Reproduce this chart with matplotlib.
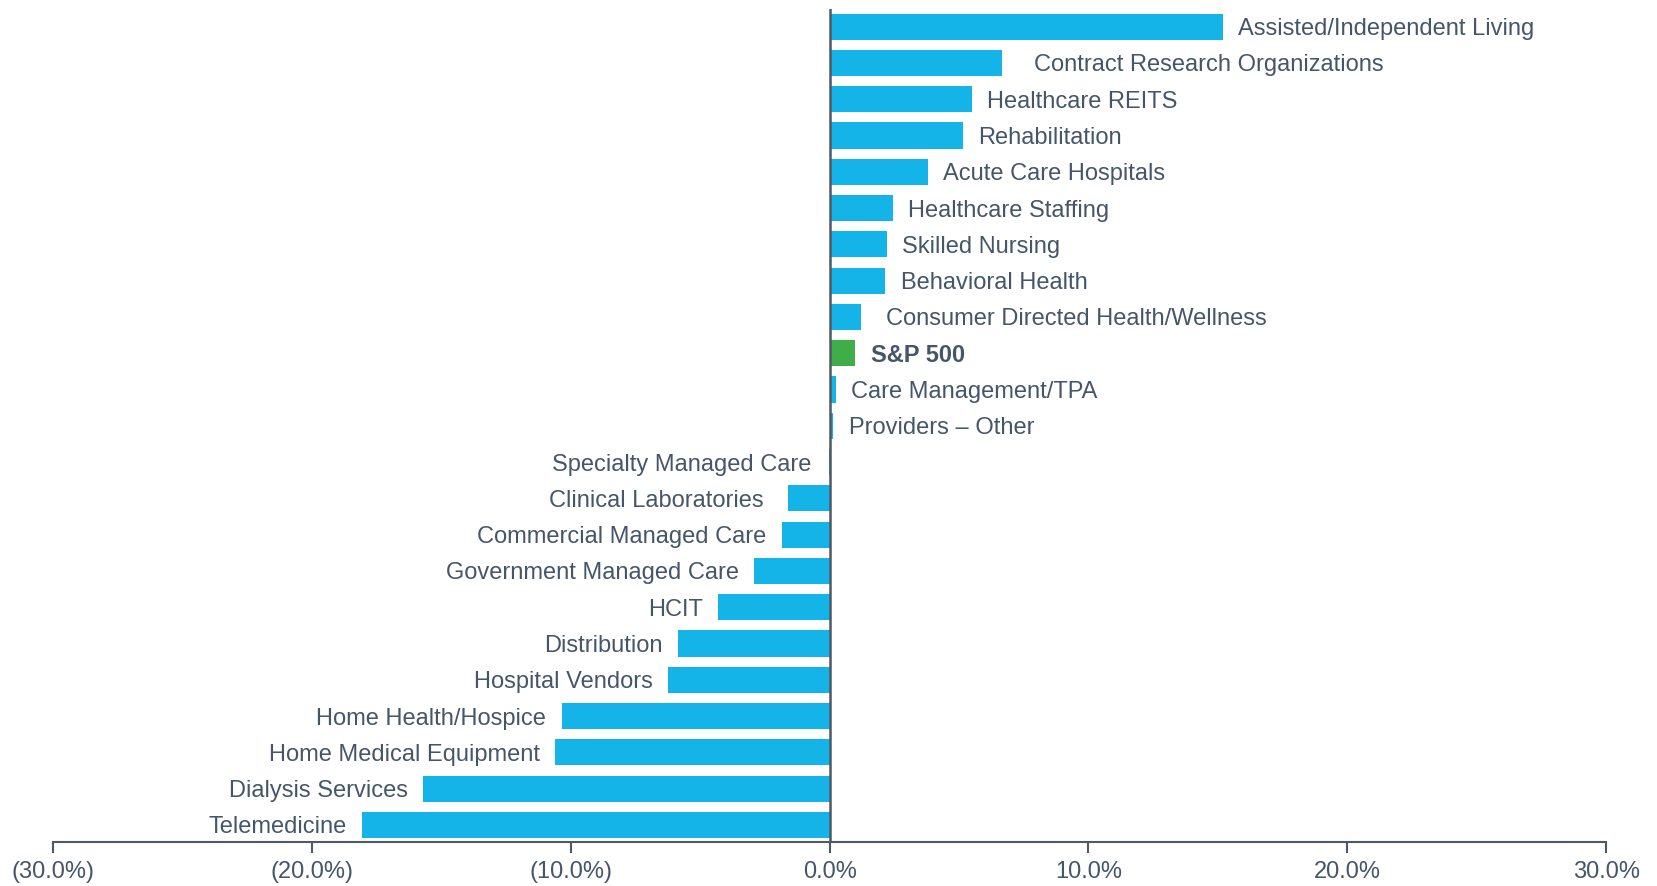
import numpy as np
import matplotlib.pyplot as plt

# sub-sector returns, top to bottom as shown
sectors = [
    "Assisted/Independent Living", "Contract Research Organizations", "Healthcare REITS",
    "Rehabilitation", "Acute Care Hospitals", "Healthcare Staffing", "Skilled Nursing",
    "Behavioral Health", "Consumer Directed Health/Wellness", "S&P 500",
    "Care Management/TPA", "Providers \u2013 Other", "Specialty Managed Care",
    "Clinical Laboratories", "Commercial Managed Care", "Government Managed Care",
    "HCIT", "Distribution", "Hospital Vendors", "Home Health/Hospice",
    "Home Medical Equipment", "Dialysis Services", "Telemedicine",
]
returns = [
    15.2, 6.65, 5.5, 5.15, 3.8, 2.45, 2.2, 2.15, 1.2, 1.0,
    0.25, 0.15, -0.02, -1.6, -1.85, -2.9, -4.3, -5.85, -6.25,
    -10.35, -10.6, -15.7, -18.05,
]
highlight = "S&P 500"
xticks = [-30, -20, -10, 0, 10, 20, 30]

# a few labels sit a little further from their bar in the original
extra_gap = {"Contract Research Organizations": 12, "Consumer Directed Health/Wellness": 7,
             "Clinical Laboratories": 7, "Specialty Managed Care": 2}

blue = "#14b4e8"
green = "#3fae49"
text_col = "#46566a"
axis_col = "#4d5966"

plt.rcParams['font.family'] = ['Liberation Sans', 'DejaVu Sans']

fig = plt.figure(figsize=(16.57, 8.86), dpi=100)
ax = fig.add_axes([0.0319, 0.0497, 0.9375, 0.9403])

y = np.arange(len(sectors))
colors = [green if s == highlight else blue for s in sectors]
ax.barh(y, returns, height=0.72, color=colors, zorder=2)

for yi, name, val in zip(y, sectors, returns):
    bold = name == highlight
    gap = 11 + extra_gap.get(name, 0)
    if val >= 0:
        ax.annotate(name, xy=(val, yi), xytext=(gap, 0), textcoords='offset points',
                    ha='left', va='center_baseline', fontsize=17, color=text_col,
                    fontweight='bold' if bold else 'normal')
    else:
        ax.annotate(name, xy=(val, yi), xytext=(-gap, 0), textcoords='offset points',
                    ha='right', va='center_baseline', fontsize=17, color=text_col)

ax.axvline(0, color=axis_col, lw=1.8, zorder=3)

ax.set_xlim(-30, 30)
ax.set_ylim(len(sectors) - 0.53, -0.49)
ax.set_xticks(xticks)
ax.set_xticklabels([f"({abs(t):.1f}%)" if t < 0 else f"{t:.1f}%" for t in xticks],
                   fontsize=17, color=text_col)
ax.set_yticks([])
for side in ['left', 'right', 'top']:
    ax.spines[side].set_visible(False)
ax.spines['bottom'].set_color(axis_col)
ax.spines['bottom'].set_linewidth(1.5)
ax.tick_params(axis='x', direction='out', length=8, width=1.5, color=axis_col, pad=6)

fig.savefig("out.png", dpi=100)
